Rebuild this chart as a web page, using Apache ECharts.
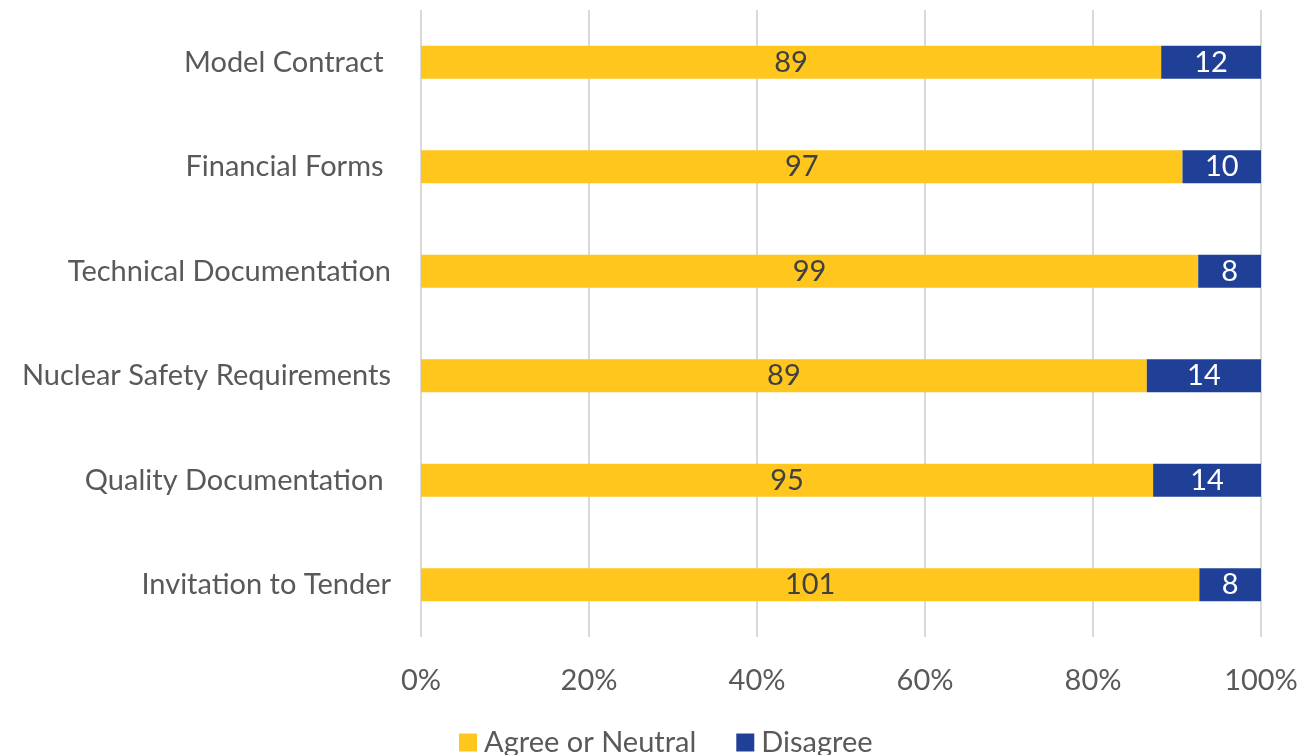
<!DOCTYPE html>
<html>
<head>
<meta charset="utf-8">
<script src="https://cdn.jsdelivr.net/npm/echarts@6/dist/echarts.min.js"></script>
<style>
  html, body { margin: 0; padding: 0; background: #fff; }
  #chart { width: 1301px; height: 755px; }
</style>
</head>
<body>
<div id="chart"></div>
<script>
// Survey responses per tender document (bottom to top on the category axis)
const categories = [
  'Invitation to Tender',
  'Quality Documentation ',
  'Nuclear Safety Requirements',
  'Technical Documentation',
  'Financial Forms ',
  'Model Contract '
];
const agreeOrNeutral = [101, 95, 89, 99, 97, 89];
const disagree = [8, 14, 14, 8, 10, 12];
const xTicks = ['0%', '20%', '40%', '60%', '80%', '100%'];

const FONT = 'Lato, "Open Sans", sans-serif';
const FS = 29;
const totals = categories.map((_, i) => agreeOrNeutral[i] + disagree[i]);
const share = (arr) => arr.map((v, i) => ({ value: v / totals[i] * 100, raw: v }));

const chart = echarts.init(document.getElementById('chart'));
chart.setOption({
  animation: false,
  textStyle: { fontFamily: FONT },
  grid: { left: 421, right: 40, top: 10, bottom: 118, containLabel: false },
  legend: {
    bottom: -7,
    left: 454,
    itemWidth: 18,
    itemHeight: 18,
    itemGap: 40,
    icon: 'rect',
    textStyle: { fontSize: FS, color: '#595959', fontFamily: FONT, padding: [0, 0, 0, 2] },
    data: ['Agree or Neutral', 'Disagree']
  },
  xAxis: {
    type: 'value',
    min: 0,
    max: 100,
    interval: 20,
    axisLine: { show: false },
    axisTick: { show: false },
    splitLine: { lineStyle: { color: '#d9d9d9', width: 2 } },
    axisLabel: {
      margin: 29,
      fontSize: FS,
      color: '#595959',
      fontFamily: FONT,
      formatter: (v) => xTicks[Math.round(v / 20)]
    }
  },
  yAxis: {
    type: 'category',
    data: categories,
    axisLine: { show: false },
    axisTick: { show: false },
    axisLabel: { margin: 30, fontSize: FS, color: '#595959', fontFamily: FONT }
  },
  series: [
    {
      name: 'Agree or Neutral',
      type: 'bar',
      stack: 'total',
      barWidth: 33,
      itemStyle: { color: '#FFC61E' },
      label: {
        show: true,
        position: 'inside',
        fontSize: FS,
        color: '#404040',
        fontFamily: FONT,
        formatter: (p) => p.data.raw
      },
      data: share(agreeOrNeutral)
    },
    {
      name: 'Disagree',
      type: 'bar',
      stack: 'total',
      barWidth: 33,
      itemStyle: { color: '#1F4096' },
      label: {
        show: true,
        position: 'inside',
        fontSize: FS,
        color: '#ffffff',
        fontFamily: FONT,
        formatter: (p) => p.data.raw
      },
      data: share(disagree)
    }
  ]
});
</script>
</body>
</html>
